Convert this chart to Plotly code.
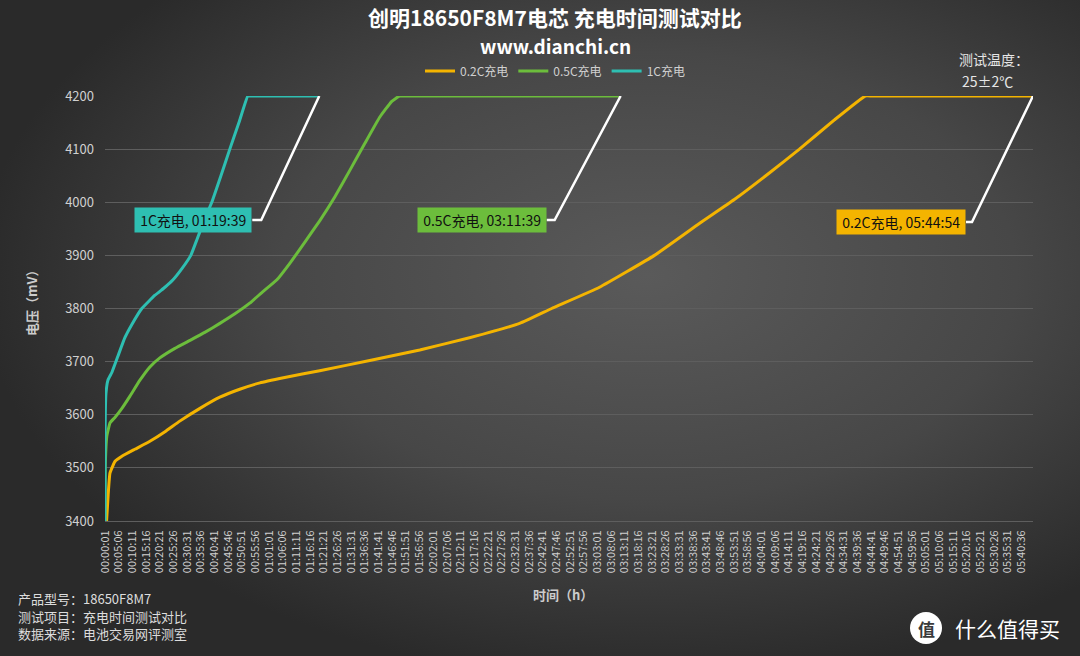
import base64
import plotly.graph_objects as go

# ---------------- data ----------------
series_names = ["0.2C充电", "0.5C充电", "1C充电"]
end_labels = ["0.2C充电, 05:44:54", "0.5C充电, 03:11:39", "1C充电, 01:19:39"]

# time in minutes since start, voltage in mV
t_1c = [0.0167, 0.03, 0.37, 1.1, 2.6, 4.8, 7.4, 10.0, 13.7, 18.6, 22.3, 25.3, 28.6, 31.9,
        34.2, 36.8, 39.7, 43.1, 46.4, 49.8, 53.1, 54.0, 79.65]
v_1c = [3400, 3560, 3640, 3665, 3680, 3710, 3745, 3770, 3800, 3825, 3840, 3854, 3875, 3900,
        3930, 3965, 4000, 4050, 4100, 4150, 4200, 4200, 4200]

t_05c = [0.0167, 0.1, 0.7, 1.9, 3.7, 6.3, 9.3, 13.0, 16.7, 20.4, 26.0, 31.6, 37.1, 42.7, 48.3,
         53.8, 58.3, 63.9, 68.7, 74.3, 79.8, 85.4, 91.0, 96.5, 102.1, 106.6, 109.5, 111.0, 191.65]
v_05c = [3400, 3500, 3560, 3585, 3595, 3612, 3635, 3665, 3690, 3707, 3725, 3740, 3755, 3772, 3790,
         3810, 3830, 3854, 3885, 3925, 3965, 4010, 4060, 4110, 4160, 4190, 4200, 4200, 4200]

t_02c = [0.6, 1.2, 1.86, 3.7, 6.3, 11.1, 16.7, 22.3, 27.8, 35.3, 42.7, 50.1, 57.6, 66.8, 79.8,
         98.4, 117.0, 135.5, 154.1, 166.0, 183.8, 204.2, 220.9, 233.9, 246.9, 258.1, 271.1,
         282.6, 285.0, 344.9]
v_02c = [3400, 3450, 3490, 3512, 3522, 3535, 3550, 3568, 3588, 3612, 3633, 3648, 3660, 3670, 3683,
         3702, 3722, 3745, 3772, 3800, 3840, 3900, 3960, 4005, 4055, 4100, 4155, 4200, 4200, 4200]

# category-like time ticks: every 00:05:05 from 00:00:01
tick_seconds = [1 + 305 * k for k in range(68)]
tick_labels = ["%02d:%02d:%02d" % (s // 3600, (s % 3600) // 60, s % 60) for s in tick_seconds]
tick_vals = [s / 60 for s in tick_seconds]
x_end = 20694 / 60

y_ticks = [3400, 3500, 3600, 3700, 3800, 3900, 4000, 4100, 4200]

colors = ["#f4b400", "#6cbd3c", "#2ebfb2"]

# ---------------- layout helpers ----------------
W, H = 1080, 656
L, R, T, B = 105, 47, 96, 135
PW, PH = W - L - R, H - T - B


def px(x):
    return (x - L) / PW


def py(y):
    return 1 - (y - T) / PH


FONT = "Noto Sans CJK SC, Microsoft YaHei, sans-serif"

fig = go.Figure()
for name, t, v, c in [(series_names[0], t_02c, v_02c, colors[0]),
                      (series_names[1], t_05c, v_05c, colors[1]),
                      (series_names[2], t_1c, v_1c, colors[2])]:
    fig.add_trace(go.Scatter(x=t, y=v, name=name, mode="lines",
                             line=dict(color=c, width=3, shape="spline", smoothing=0.35),
                             hoverinfo="skip"))

# background gradient
svg = ('<svg xmlns="http://www.w3.org/2000/svg" width="1080" height="656">'
       '<defs><radialGradient id="g" cx="0.6" cy="0.42" r="0.62" fx="0.6" fy="0.42">'
       '<stop offset="0" stop-color="#5a5a5a"/><stop offset="0.55" stop-color="#474747"/>'
       '<stop offset="1" stop-color="#2a2a2a"/></radialGradient></defs>'
       '<rect width="1080" height="656" fill="url(#g)"/></svg>')
src = "data:image/svg+xml;base64," + base64.b64encode(svg.encode()).decode()
fig.add_layout_image(dict(source=src, xref="paper", yref="paper", x=px(0), y=py(0),
                          sizex=W / PW, sizey=H / PH, sizing="stretch",
                          xanchor="left", yanchor="top", layer="below"))

# end-of-charge labels with bent leader lines
ends = [(t_02c[-1], -61, -67, -126, end_labels[0], colors[0]),
        (t_05c[-1], -66, -74, -124, end_labels[1], colors[1]),
        (t_1c[-1], -58, -67, -124, end_labels[2], colors[2])]
for tx, elbow, boxr, dy, txt, c in ends:
    fig.add_shape(type="path", xref="x", yref="y", xsizemode="pixel", ysizemode="pixel",
                  xanchor=tx, yanchor=4200,
                  path="M0,0 L%d,%d L%d,%d" % (elbow, dy, boxr, dy),
                  line=dict(color="white", width=2.5))
    fig.add_annotation(x=tx, y=4200, xref="x", yref="y", text="&nbsp;" + txt + "&nbsp;",
                       showarrow=False,
                       xanchor="right", yanchor="middle", xshift=boxr, yshift=dy,
                       font=dict(family=FONT, size=14, color="#111111"),
                       bgcolor=c, borderpad=2)

ann = [
    dict(x=px(555), y=py(17), text="<b>创明18650F8M7电芯 充电时间测试对比</b>",
         font=dict(size=21, color="white")),
    dict(x=px(555), y=py(46), text="<b>www.dianchi.cn</b>", font=dict(size=19, color="white")),
    dict(x=px(994), y=py(59), text="测试温度：", font=dict(size=14, color="#e6e6e6")),
    dict(x=px(987), y=py(81), text="25±2℃", font=dict(size=14, color="#e6e6e6")),
    dict(x=px(563), y=py(594), text="<b>时间（h）</b>", font=dict(size=13, color="#cccccc")),
    dict(x=px(31), y=py(300), text="<b>电压（mV）</b>", font=dict(size=13, color="#cccccc"),
         textangle=-90),
    dict(x=px(16), y=py(598), text="产品型号：18650F8M7", xanchor="left",
         font=dict(size=13, color="#dddddd")),
    dict(x=px(16), y=py(616), text="测试项目：充电时间测试对比", xanchor="left",
         font=dict(size=13, color="#dddddd")),
    dict(x=px(16), y=py(633), text="数据来源：电池交易网评测室", xanchor="left",
         font=dict(size=13, color="#dddddd")),
    dict(x=px(953), y=py(628), text="什么值得买", xanchor="left",
         font=dict(size=21, color="white")),
    dict(x=px(926), y=py(628), text="<b>值</b>", font=dict(size=17, color="#3a3a3a")),
]
for a in ann:
    a.setdefault("xanchor", "center")
    a.update(xref="paper", yref="paper", yanchor="middle", showarrow=False)
    a["font"]["family"] = FONT
    fig.add_annotation(**a)

fig.add_shape(type="circle", xref="paper", yref="paper", x0=px(910), x1=px(942),
              y0=py(644), y1=py(612), fillcolor="white", line=dict(width=0), layer="below")

fig.update_layout(
    width=W, height=H,
    margin=dict(l=L, r=R, t=T, b=B),
    paper_bgcolor="#3c3c3c", plot_bgcolor="rgba(0,0,0,0)",
    font=dict(family=FONT, color="#cfcfcf"),
    showlegend=True,
    legend=dict(orientation="h", xref="paper", yref="paper", x=px(555), y=py(71),
                xanchor="center", yanchor="middle", font=dict(size=12, color="#d0d0d0"),
                bgcolor="rgba(0,0,0,0)", itemwidth=30, tracegroupgap=0),
    xaxis=dict(range=[tick_vals[0], x_end], tickvals=tick_vals, ticktext=tick_labels,
               tickangle=-90, showgrid=False, zeroline=False, showline=True,
               linecolor="#5e5e5e", linewidth=1, ticks="", ticklabelstandoff=4,
               tickfont=dict(size=11, color="#cfcfcf")),
    yaxis=dict(range=[3400, 4200], tickvals=y_ticks, showgrid=True, gridcolor="#5e5e5e",
               gridwidth=1, zeroline=False, showline=False, ticks="",
               ticklabelstandoff=10, tickfont=dict(size=13, color="#d0d0d0")),
)

fig.write_html("out.html", config={"displayModeBar": False},
               post_script="document.body.style.margin='0';document.body.style.overflow='hidden';")
